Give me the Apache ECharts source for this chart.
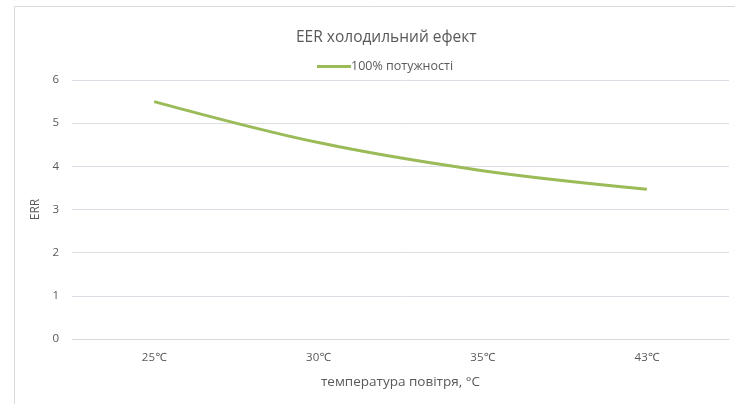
<!DOCTYPE html>
<html>
<head>
<meta charset="utf-8">
<script src="https://cdn.jsdelivr.net/npm/echarts@6/dist/echarts.min.js"></script>
<style>html,body{margin:0;padding:0;background:#fff}#c{width:735px;height:404px}</style>
</head>
<body>
<div id="c"></div>
<script>
const categories = ['25℃', '30℃', '35℃', '43℃'];
const values = [5.5, 4.55, 3.9, 3.47];
const seriesName = '100% потужності';
const titleText = 'EER холодильний ефект';
const xName = 'температура повітря, °C';
const yName = 'ERR';

const font = '"Open Sans", "Noto Sans", sans-serif';
const chart = echarts.init(document.getElementById('c'), null, {renderer: 'canvas'});
chart.setOption({
  animation: false,
  backgroundColor: '#fff',
  textStyle: {fontFamily: font},
  graphic: [{
    type: 'rect', shape: {x: 14.5, y: 6.5, width: 900, height: 600},
    style: {fill: 'none', stroke: '#d9d9d9', lineWidth: 1}, silent: true
  }],
  title: {
    text: titleText, left: 291, top: 25,
    textStyle: {fontFamily: font, fontSize: 15.5, fontWeight: 'normal', color: '#595959'}
  },
  legend: {
    data: [seriesName], top: 55, left: 312,
    itemWidth: 34, itemHeight: 3, itemGap: 0,
    icon: 'rect',
    textStyle: {fontFamily: font, fontSize: 12.5, color: '#595959', padding: [0, 0, 0, -5]}
  },
  grid: {left: 72, right: 6, top: 80, bottom: 65, containLabel: false},
  xAxis: {
    type: 'category', data: categories, boundaryGap: true,
    name: xName, nameLocation: 'middle', nameGap: 36,
    nameTextStyle: {fontFamily: font, fontSize: 13.5, color: '#595959'},
    axisLine: {lineStyle: {color: '#d9d9d9', width: 1}},
    axisTick: {show: false},
    axisLabel: {fontFamily: font, fontSize: 11.5, color: '#595959', margin: 13}
  },
  yAxis: {
    type: 'value', min: 0, max: 6, interval: 1,
    name: yName, nameLocation: 'middle', nameGap: 29, nameRotate: 90,
    nameTextStyle: {fontFamily: font, fontSize: 12, color: '#595959'},
    axisLine: {show: false}, axisTick: {show: false},
    axisLabel: {fontFamily: font, fontSize: 11.5, color: '#595959', margin: 13}
  },
  series: [{
    name: seriesName, type: 'line', data: values, smooth: 0.35,
    symbol: 'none', lineStyle: {color: '#9bbb59', width: 3}, itemStyle: {color: '#9bbb59'}
  }]
});
</script>
</body>
</html>
